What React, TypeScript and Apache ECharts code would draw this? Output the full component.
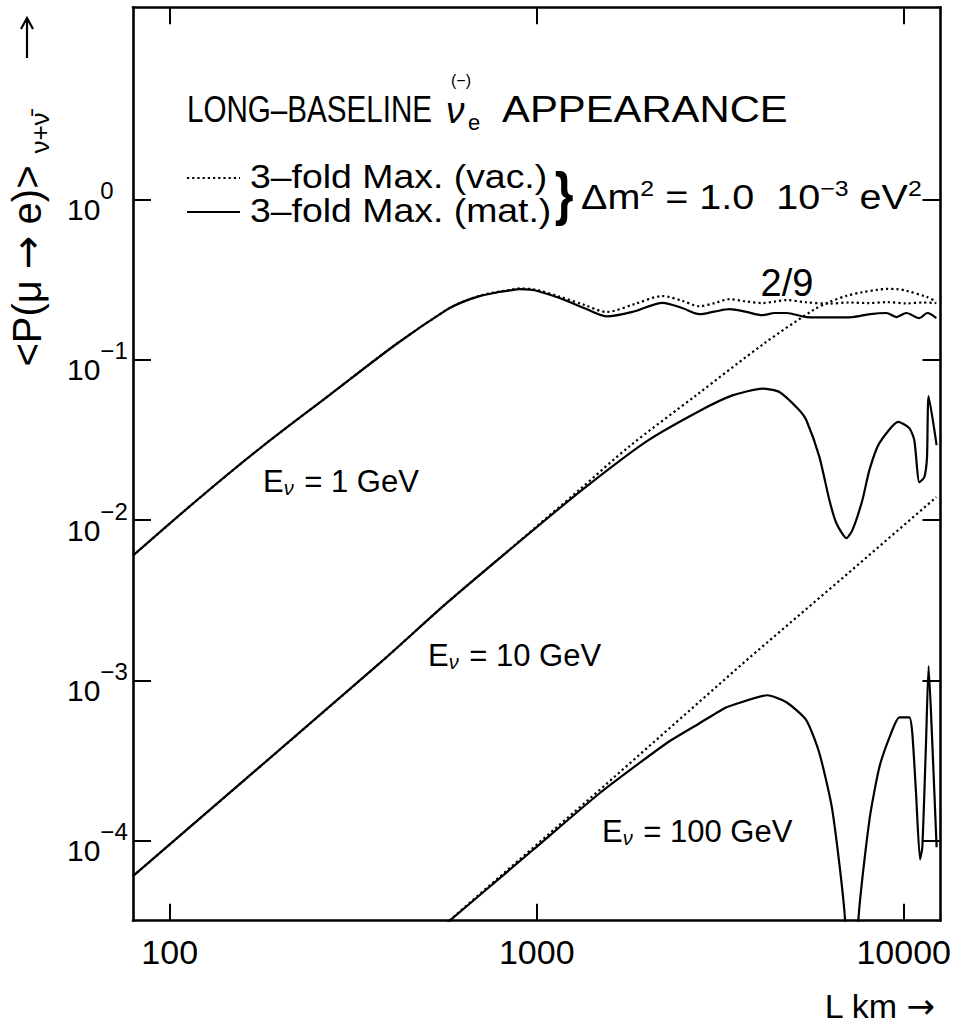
import React, { useEffect, useRef } from "react";
import * as echarts from "echarts";

const FONT = "'Liberation Sans', Arial, 'DejaVu Sans', sans-serif";
const ARROW_FONT = "'DejaVu Sans', sans-serif";

// ---- axis ranges (log10 exponents) and tick values ----
const X_LOG_MIN = 1.9;
const X_LOG_MAX = 4.1;
const Y_LOG_MIN = -4.5;
const Y_LOG_MAX = 1.2;
const X_TICKS = [100, 1000, 10000];
const Y_TICKS = [1e-4, 1e-3, 1e-2, 1e-1, 1];

// ---- E = 1 GeV ----
const L_1GEV_MAT = [79.4, 118.6, 179.4, 273, 415.6, 568, 629, 699, 770, 844, 898, 960, 1010, 1154, 1350, 1550, 1850, 2202, 2500, 2777, 3050, 3352, 3700, 4121, 4450, 4791, 5429, 6300, 7247, 8100, 8967, 9548, 10165, 11028, 11596, 12270];
const P_1GEV_MAT = [0.006, 0.0133, 0.029, 0.0605, 0.126, 0.205, 0.23, 0.25, 0.262, 0.271, 0.276, 0.274, 0.268, 0.243, 0.21, 0.187, 0.201, 0.227, 0.21, 0.193, 0.2, 0.207, 0.2, 0.19, 0.196, 0.196, 0.185, 0.184, 0.185, 0.193, 0.196, 0.185, 0.196, 0.182, 0.196, 0.182];

const L_1GEV_VAC = [79.4, 118.6, 179.4, 273, 415.6, 568, 629, 699, 770, 844, 898, 960, 1010, 1154, 1350, 1550, 1850, 2202, 2500, 2777, 3050, 3352, 3700, 4121, 4450, 4791, 5400, 6200, 7100, 8000, 9000, 10200, 11300, 12270];
const P_1GEV_VAC = [0.006, 0.0133, 0.029, 0.0605, 0.126, 0.205, 0.23, 0.251, 0.264, 0.273, 0.279, 0.277, 0.272, 0.248, 0.22, 0.199, 0.223, 0.25, 0.233, 0.216, 0.226, 0.239, 0.232, 0.226, 0.231, 0.236, 0.229, 0.224, 0.228, 0.226, 0.229, 0.225, 0.228, 0.226];

// ---- E = 10 GeV ----
const L_10GEV_MAT = [79.4, 373.5, 568, 860, 1309, 1992, 2777, 3415, 4121, 4585, 5196, 5429, 5891, 6274, 6554, 6979, 7247, 7714, 8061, 8582, 9667, 10358, 10688, 11028, 11378, 11573, 11688, 12291];
const P_10GEV_MAT = [6.0e-5, 1.28e-3, 3.03e-3, 6.77e-3, 0.015, 0.031, 0.048, 0.06, 0.0662, 0.063, 0.0485, 0.042, 0.0248, 0.0133, 0.00956, 0.00771, 0.00865, 0.0133, 0.0205, 0.0302, 0.041, 0.0375, 0.0315, 0.0172, 0.0185, 0.0247, 0.0593, 0.0294];

const L_10GEV_VAC = [79.4, 373.5, 568, 860, 1309, 1794, 2730, 4156, 5680, 6290, 6990, 7700, 8440, 8980, 9600, 10100, 11540, 12270];
const P_10GEV_VAC = [6.0e-5, 1.28e-3, 3.03e-3, 6.8e-3, 0.0155, 0.029, 0.0605, 0.126, 0.205, 0.23, 0.251, 0.264, 0.273, 0.277, 0.276, 0.271, 0.247, 0.232];

// ---- E = 100 GeV ----
const L_100GEV_MAT = [511, 974.5, 1484, 2258, 2777, 3248, 3415, 4253, 4791, 5429, 5891, 6391, 6922, 7200, 7523, 8061, 8582, 9235, 9728, 10358, 10554, 10803, 11076, 11237, 11500, 11688, 11964, 12291];
const P_100GEV_MAT = [2.48e-5, 8.7e-5, 1.974e-4, 4.05e-4, 5.4e-4, 6.7e-4, 6.99e-4, 8.07e-4, 7.3e-4, 5.63e-4, 3.51e-4, 1.545e-4, 3.16e-5, 1.0e-6, 3.16e-5, 1.338e-4, 2.87e-4, 4.67e-4, 5.88e-4, 5.88e-4, 4.67e-4, 1.974e-4, 7.64e-5, 9.08e-5, 4.05e-4, 1.225e-3, 4.05e-4, 9.08e-5];

const L_100GEV_VAC = [511, 1484, 3728, 7111, 12270];
const P_100GEV_VAC = [2.48e-5, 2.07e-4, 1.335e-3, 4.73e-3, 0.0139];

// ---- texts ----
const TITLE_LEFT = "LONG–BASELINE";
const TITLE_RIGHT = "APPEARANCE";
const LEGEND_VAC = "3–fold Max. (vac.)";
const LEGEND_MAT = "3–fold Max. (mat.)";
const ENERGY_LABELS = ["1", "10", "100"];
const TWO_NINTHS = "2/9";

const zip = (xs: number[], ys: number[]) => xs.map((x, i) => [x, ys[i]]);

const isDecade = (v: number) => {
  const l = Math.log10(v);
  return Math.abs(l - Math.round(l)) < 1e-6;
};

export default function App() {
  const ref = useRef<HTMLDivElement>(null);

  useEffect(() => {
    if (!ref.current) return;
    const chart = echarts.init(ref.current, undefined, { renderer: "svg" });

    const solid = { color: "#000", width: 2.2, type: "solid" as const };
    const dotted = { color: "#000", width: 2.2, type: [2.2, 3] as any, cap: "butt" as const };

    const lineSeries = (name: string, L: number[], P: number[], style: any, smooth = 0.3) => ({
      type: "line",
      name,
      data: zip(L, P),
      showSymbol: false,
      symbol: "none",
      smooth,
      lineStyle: style,
      clip: true,
      z: style.type === "solid" ? 3 : 2,
    });

    const xBase = {
      type: "log",
      logBase: 10,
      min: Math.pow(10, X_LOG_MIN),
      max: Math.pow(10, X_LOG_MAX),
      axisLine: { show: true, onZero: false, lineStyle: { color: "#000", width: 2.6 } },
      axisTick: { show: true, inside: true, length: 17, customValues: X_TICKS, lineStyle: { color: "#000", width: 2 } },
      minorTick: { show: false },
      splitLine: { show: false },
      minorSplitLine: { show: false },
    };
    const yBase = {
      type: "log",
      logBase: 10,
      min: Math.pow(10, Y_LOG_MIN),
      max: Math.pow(10, Y_LOG_MAX),
      axisLine: { show: true, onZero: false, lineStyle: { color: "#000", width: 2.6 } },
      axisTick: { show: true, inside: true, length: 18, customValues: Y_TICKS, lineStyle: { color: "#000", width: 2 } },
      minorTick: { show: false },
      splitLine: { show: false },
      minorSplitLine: { show: false },
    };

    const energyText = (e: string) => `{t|E}{sub|ν}{t| = ${e} GeV}`;
    const energyRich = {
      t: { fontFamily: FONT, fontSize: 31, color: "#000" },
      sub: { fontFamily: FONT, fontSize: 20, fontStyle: "italic", color: "#000", padding: [14, 2, 0, 0] },
    };

    chart.setOption({
      animation: false,
      backgroundColor: "#fff",
      grid: { left: 133, right: 13.3, top: 7.3, bottom: 108.3, containLabel: false },
      xAxis: [
        {
          ...xBase,
          position: "bottom",
          axisLabel: {
            show: true,
            margin: 14,
            customValues: X_TICKS,
            fontFamily: FONT,
            fontSize: 34,
            color: "#000",
            formatter: (v: number) => (isDecade(v) ? String(Math.round(v)) : ""),
          },
        },
        { ...xBase, position: "top", axisLabel: { show: false } },
      ],
      yAxis: [
        {
          ...yBase,
          position: "left",
          axisLabel: {
            show: true,
            margin: 66,
            align: "left",
            color: "#000",
            customValues: Y_TICKS,
            formatter: (v: number) => {
              if (!isDecade(v)) return "";
              const e = Math.round(Math.log10(v));
              const s = e < 0 ? "−" + -e : String(e);
              return `{b|10}{s|${s}}`;
            },
            rich: {
              b: { fontFamily: FONT, fontSize: 30, color: "#000", padding: [20, 0, 0, 0] },
              s: { fontFamily: FONT, fontSize: 24, color: "#000", padding: [0, 0, 18, 0] },
            },
          },
        },
        { ...yBase, position: "right", axisLabel: { show: false } },
      ],
      series: [
        lineSeries("3-fold Max. (vac.) 1 GeV", L_1GEV_VAC, P_1GEV_VAC, dotted),
        lineSeries("3-fold Max. (vac.) 10 GeV", L_10GEV_VAC, P_10GEV_VAC, dotted),
        lineSeries("3-fold Max. (vac.) 100 GeV", L_100GEV_VAC, P_100GEV_VAC, dotted, 0),
        lineSeries("3-fold Max. (mat.) 1 GeV", L_1GEV_MAT, P_1GEV_MAT, solid),
        lineSeries("3-fold Max. (mat.) 10 GeV", L_10GEV_MAT, P_10GEV_MAT, solid, 0.2),
        lineSeries("3-fold Max. (mat.) 100 GeV", L_100GEV_MAT, P_100GEV_MAT, solid, 0.2),
      ],
      graphic: [
        // Y axis title: arrow at the top
        { type: "line", shape: { x1: 27, y1: 58, x2: 27, y2: 18 }, style: { stroke: "#000", lineWidth: 2.2 } },
        {
          type: "polyline",
          shape: { points: [[21, 29], [27, 18], [33, 29]] },
          style: { stroke: "#000", lineWidth: 2.2, fill: null },
        },
        {
          type: "text",
          x: 27,
          y: 266,
          rotation: Math.PI / 2,
          style: {
            text: "{a|<P(μ }{r|→}{a| e)>}",
            align: "center",
            verticalAlign: "middle",
            rich: {
              a: { fontFamily: FONT, fontSize: 40, color: "#000" },
              r: { fontFamily: ARROW_FONT, fontSize: 40, color: "#000" },
            },
          },
        },
        {
          type: "text",
          x: 40,
          y: 133,
          rotation: Math.PI / 2,
          style: { text: "ν+ν̄", font: `26px ${FONT}`, fill: "#000", align: "center", verticalAlign: "middle" },
        },
        // X axis title
        {
          type: "text",
          x: 935,
          y: 1006,
          style: {
            text: "{a|L km }{r|→}",
            align: "right",
            verticalAlign: "middle",
            rich: {
              a: { fontFamily: FONT, fontSize: 34, color: "#000" },
              r: { fontFamily: ARROW_FONT, fontSize: 34, color: "#000" },
            },
          },
        },
        // Title
        {
          type: "text",
          x: 187,
          y: 109,
          scaleX: 0.8,
          style: { text: TITLE_LEFT, font: `37px ${FONT}`, fill: "#000", align: "left", verticalAlign: "middle" },
        },
        {
          type: "text",
          x: 446,
          y: 110,
          style: { text: "ν", font: `italic 37px ${FONT}`, fill: "#000", align: "left", verticalAlign: "middle" },
        },
        {
          type: "text",
          x: 461,
          y: 80,
          style: { text: "(−)", font: `16px ${FONT}`, fill: "#000", align: "center", verticalAlign: "middle" },
        },
        {
          type: "text",
          x: 468,
          y: 122,
          style: { text: "e", font: `22px ${FONT}`, fill: "#000", align: "left", verticalAlign: "middle" },
        },
        {
          type: "text",
          x: 502,
          y: 109,
          scaleX: 1.13,
          style: { text: TITLE_RIGHT, font: `37px ${FONT}`, fill: "#000", align: "left", verticalAlign: "middle" },
        },
        // Legend
        {
          type: "line",
          shape: { x1: 187, y1: 178, x2: 240, y2: 178 },
          style: { stroke: "#000", lineWidth: 2.2, lineDash: [2.2, 3] },
        },
        {
          type: "text",
          x: 250,
          y: 177,
          scaleX: 1.1,
          style: { text: LEGEND_VAC, font: `34px ${FONT}`, fill: "#000", align: "left", verticalAlign: "middle", lineHeight: 32 },
        },
        {
          type: "line",
          shape: { x1: 187, y1: 212, x2: 240, y2: 212 },
          style: { stroke: "#000", lineWidth: 2.2 },
        },
        {
          type: "text",
          x: 250,
          y: 211,
          scaleX: 1.1,
          style: { text: LEGEND_MAT, font: `34px ${FONT}`, fill: "#000", align: "left", verticalAlign: "middle", lineHeight: 32 },
        },
        {
          type: "text",
          x: 564,
          y: 194,
          scaleX: 0.8,
          style: { text: "}", font: `bold 60px ${FONT}`, fill: "#000", align: "center", verticalAlign: "middle" },
        },
        {
          type: "text",
          x: 581,
          y: 197,
          scaleX: 1.13,
          style: {
            text: "{a|Δm}{s|2}{a| = 1.0  10}{s|−3}{a| eV}{s|2}",
            fill: "#000",
            align: "left",
            verticalAlign: "middle",
            rich: {
              a: { fontFamily: FONT, fontSize: 35, color: "#000" },
              s: { fontFamily: FONT, fontSize: 22, color: "#000", padding: [0, 0, 17, 0] },
            },
          },
        },
        // 2/9
        {
          type: "text",
          x: 787,
          y: 283,
          style: { text: TWO_NINTHS, font: `38px ${FONT}`, fill: "#000", align: "center", verticalAlign: "middle" },
        },
        // Energy labels
        {
          type: "text",
          x: 263,
          y: 481,
          style: { text: energyText(ENERGY_LABELS[0]), align: "left", verticalAlign: "middle", rich: energyRich },
        },
        {
          type: "text",
          x: 428,
          y: 655,
          style: { text: energyText(ENERGY_LABELS[1]), align: "left", verticalAlign: "middle", rich: energyRich },
        },
        {
          type: "text",
          x: 602,
          y: 831,
          style: { text: energyText(ENERGY_LABELS[2]), align: "left", verticalAlign: "middle", rich: energyRich },
        },
      ],
    } as any);

    return () => chart.dispose();
  }, []);

  return (
    <div
      ref={ref}
      style={{ position: "absolute", left: 0, top: 0, width: 954, height: 1029, background: "#fff" }}
    />
  );
}
